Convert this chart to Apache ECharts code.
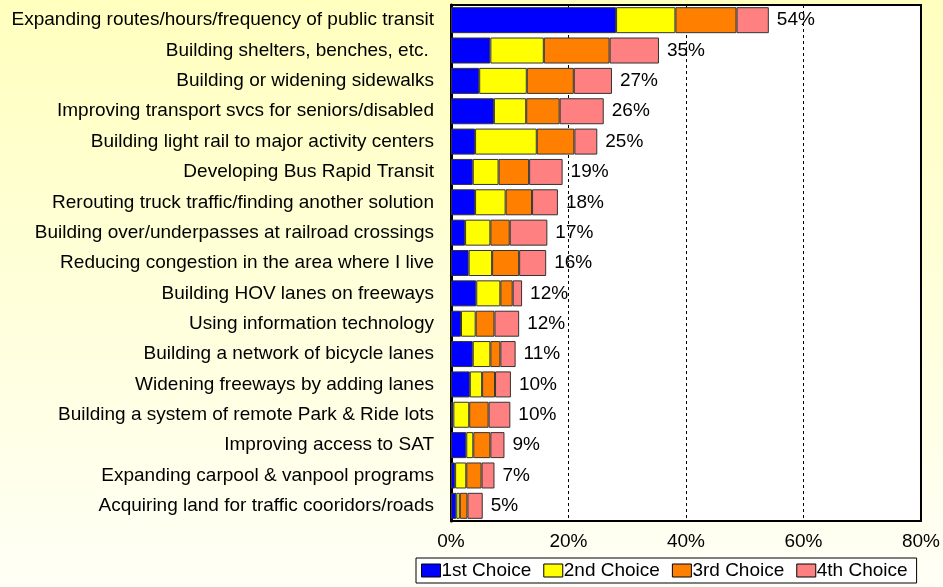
<!DOCTYPE html>
<html>
<head>
<meta charset="utf-8">
<script src="https://cdn.jsdelivr.net/npm/echarts@6/dist/echarts.min.js"></script>
<style>
  html, body { margin: 0; padding: 0; }
  #chart { width: 943px; height: 587px; }
</style>
</head>
<body>
<div id="chart"></div>
<script>
// categories, top to bottom
const categories = [
  'Expanding routes/hours/frequency of public transit',
  'Building shelters, benches, etc. ',
  'Building or widening sidewalks',
  'Improving transport svcs for seniors/disabled',
  'Building light rail to major activity centers',
  'Developing Bus Rapid Transit',
  'Rerouting truck traffic/finding another solution',
  'Building over/underpasses at railroad crossings',
  'Reducing congestion in the area where I live',
  'Building HOV lanes on freeways',
  'Using information technology',
  'Building a network of bicycle lanes',
  'Widening freeways by adding lanes',
  'Building a system of remote Park & Ride lots',
  'Improving access to SAT',
  'Expanding carpool & vanpool programs',
  'Acquiring land for traffic cooridors/roads'
]

const first  = [28.1, 6.7, 4.8, 7.3, 4.1, 3.7, 4.1, 2.4, 3.0, 4.3, 1.7, 3.7, 3.2, 0.4, 2.6, 0.7, 0.9]
const second = [10.1, 9.1, 8.1, 5.5, 10.5, 4.4, 5.2, 4.3, 4.0, 4.1, 2.5, 3.0, 2.1, 2.7, 1.2, 1.9, 0.6]
const third  = [10.4, 11.2, 8.0, 5.7, 6.4, 5.2, 4.5, 3.3, 4.6, 2.1, 3.2, 1.7, 2.2, 3.3, 2.9, 2.6, 1.3]
const fourth = [5.5, 8.4, 6.5, 7.5, 3.9, 5.7, 4.4, 6.4, 4.6, 1.6, 4.2, 2.6, 2.7, 3.7, 2.4, 2.2, 2.6]
const totals = ['54%', '35%', '27%', '26%', '25%', '19%', '18%', '17%', '16%', '12%', '12%', '11%', '10%', '10%', '9%', '7%', '5%']
const seriesNames = ['1st Choice', '2nd Choice', '3rd Choice', '4th Choice']
const seriesColors = ['#0000FF', '#FFFF00', '#FF8000', '#FF8080']
const ticks = [0, 20, 40, 60, 80]

const chartBox = echarts.init(document.getElementById('chart'))

const makeSeries = (name, data, color, withLabel) => {
  const s = {
    name: name,
    type: 'bar',
    stack: 'all',
    barWidth: 26,
    data: data,
    itemStyle: { color: color, borderColor: '#333', borderWidth: 1 }
  }
  if (withLabel) {
    s.label = {
      show: true,
      position: 'right',
      distance: 8,
      color: '#000',
      fontSize: 19,
      fontFamily: 'Liberation Sans',
      formatter: function (p) {
        return totals[p.dataIndex]
      }
    }
  }
  return s
}

const option = {
  animation: false,
  backgroundColor: new echarts.graphic.LinearGradient(0, 0, 0, 1, [
    { offset: 0, color: '#FFFFBE' },
    { offset: 1, color: '#FFFFF6' }
  ]),
  textStyle: { fontFamily: 'Liberation Sans' },
  grid: {
    left: 451,
    right: 22,
    top: 5,
    bottom: 66,
    show: true,
    backgroundColor: '#fff',
    borderColor: '#000',
    borderWidth: 2
  },
  legend: {
    bottom: 4,
    left: 416,
    data: seriesNames,
    icon: 'rect',
    itemWidth: 19,
    itemHeight: 13,
    itemGap: 12,
    padding: [3, 9, 3, 5],
    backgroundColor: '#fff',
    borderColor: '#000',
    borderWidth: 1,
    borderRadius: 0,
    itemStyle: { borderColor: '#000', borderWidth: 1 },
    textStyle: { color: '#000', fontSize: 19, padding: [0, 0, 0, -4] }
  },
  xAxis: {
    type: 'value',
    min: ticks[0],
    max: ticks[ticks.length - 1],
    interval: 20,
    axisLine: { show: false },
    axisTick: { show: false },
    axisLabel: {
      color: '#000',
      fontSize: 19,
      margin: 11,
      formatter: '{value}%'
    },
    splitLine: {
      show: true,
      lineStyle: { color: '#000', type: [3, 3], width: 1 }
    }
  },
  yAxis: {
    type: 'category',
    inverse: true,
    data: categories,
    axisLine: { show: true, lineStyle: { color: '#000', width: 3 } },
    axisTick: { show: false },
    axisLabel: { color: '#000', fontSize: 19, margin: 17 }
  },
  series: [
    makeSeries(seriesNames[0], first, seriesColors[0], false),
    makeSeries(seriesNames[1], second, seriesColors[1], false),
    makeSeries(seriesNames[2], third, seriesColors[2], false),
    makeSeries(seriesNames[3], fourth, seriesColors[3], true)
  ]
}

chartBox.setOption(option, true)
</script>
</body>
</html>
